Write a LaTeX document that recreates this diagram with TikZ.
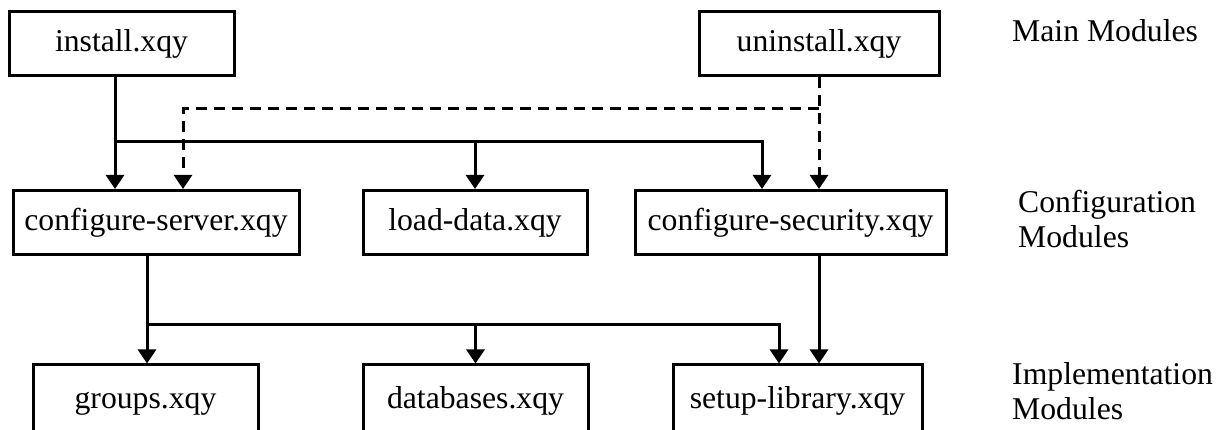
\documentclass[tikz,border=0pt]{standalone}
\usepackage{fontspec}
\setmainfont{Liberation Serif}
\usepackage{tikz}
\usetikzlibrary{positioning, arrows.meta}

\begin{document}
\begin{tikzpicture}[x=1pt, y=-1pt,
    font=\fontsize{31.7}{35}\selectfont,
    module/.style={draw, line width=3pt, rectangle, inner sep=0pt,
        minimum height=64pt, text height=23pt, text depth=6pt},
    link/.style={line width=3pt, -{Triangle[width=18pt, length=14pt]}},
    uses/.style={link, dash pattern=on 11pt off 7pt},
    level/.style={align=left, anchor=base west, inner sep=0pt}]
    \useasboundingbox (0,0) rectangle (1224,430);
    \clip (0,0) rectangle (1224,430);

    % Define nodes
    \node[module, minimum width=225pt] (install) at (121.5,43.5) {install.xqy};
    \node[module, minimum width=240pt] (uninstall) at (819,43.5) {uninstall.xqy};

    \node[module, minimum width=286pt] (cserver) at (156,222.5) {configure-server.xqy};
    \node[module, minimum width=224pt] (loaddata) at (475,222.5) {load-data.xqy};
    \node[module, minimum width=311pt] (csecurity) at (790.5,222.5) {configure-security.xqy};

    \node[module, minimum width=225pt, minimum height=70pt] (groups) at (145.5,400) {groups.xqy};
    \node[module, minimum width=225pt, minimum height=70pt] (databases) at (475.5,400) {databases.xqy};
    \node[module, minimum width=249pt, minimum height=70pt] (setuplib) at (797.5,400) {setup-library.xqy};

    % Level labels (base is on the last line)
    \node[level] (main) at (1012,42) {Main Modules};
    \node[level] (config) at (1018,248) {Configuration\\Modules};
    \node[level] (impl) at (1012,419) {Implementation\\Modules};

    % Junctions
    \coordinate (busA) at (115,142);
    \coordinate (busB) at (147,325);
    \coordinate (dashA) at (819,109);

    % Draw arrows
    \draw[link] (install.south -| busA) -- (cserver.north -| busA);
    \draw[link] (busA) -| (loaddata.north);
    \draw[link] (busA) -| ([xshift=-28.5pt]csecurity.north);

    \draw[uses] (uninstall.south) -- ([xshift=28.5pt]csecurity.north);
    \draw[uses] (dashA) -| ([xshift=27pt]cserver.north);

    \draw[link] (cserver.south -| busB) -- (groups.north -| busB);
    \draw[link] (busB) -| (databases.north);
    \draw[link] (busB) -| ([xshift=-18.5pt]setuplib.north);
    \draw[link] (csecurity.south -| dashA) -- (setuplib.north -| dashA);
\end{tikzpicture}
\end{document}
